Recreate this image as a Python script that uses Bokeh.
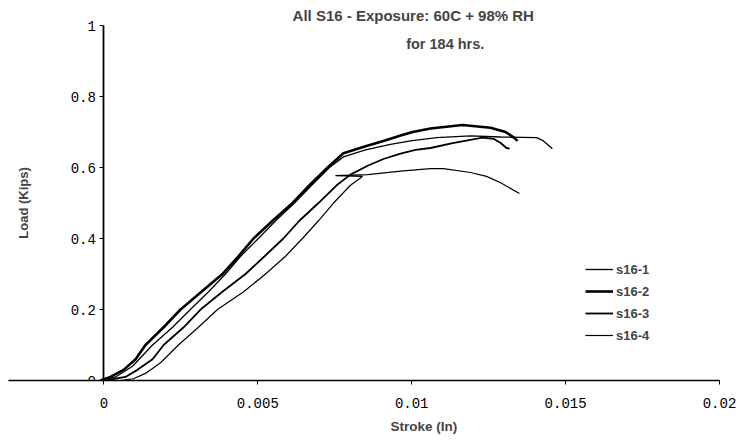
from bokeh.plotting import figure
from bokeh.models import (Range1d, LinearAxis, FixedTicker, Legend, LegendItem,
                          Label, Title, CustomJSTickFormatter)
from bokeh.embed import file_html
from bokeh.resources import INLINE

# ---- data (stroke in inches, load in kips) ----
s16_1_x = [-0.00005, 0.00038, 0.00093, 0.00158, 0.00223, 0.00281, 0.00340, 0.00395,
           0.00444, 0.00502, 0.00558, 0.00619, 0.00675, 0.00733, 0.00778, 0.00850,
           0.00931, 0.00996, 0.01081, 0.01191, 0.01289, 0.01406, 0.01428, 0.01448, 0.01457]
s16_1_y = [0.0, 0.01, 0.04, 0.10, 0.15, 0.20, 0.25, 0.30,
           0.35, 0.40, 0.45, 0.50, 0.55, 0.60, 0.63, 0.65,
           0.665, 0.675, 0.684, 0.689, 0.686, 0.684, 0.675, 0.66, 0.653]

s16_2_x = [-0.00011, 0.00021, 0.00064, 0.00103, 0.00135, 0.00194, 0.00249, 0.00317,
           0.00385, 0.00437, 0.00486, 0.00548, 0.00613, 0.00668, 0.00727, 0.00778,
           0.00850, 0.00908, 0.00964, 0.01003, 0.01061, 0.01165, 0.01256, 0.01305,
           0.01331, 0.01344]
s16_2_y = [0.0, 0.01, 0.03, 0.06, 0.10, 0.15, 0.20, 0.25,
           0.30, 0.35, 0.40, 0.45, 0.50, 0.55, 0.60, 0.64,
           0.66, 0.675, 0.69, 0.70, 0.71, 0.72, 0.712, 0.70,
           0.685, 0.675]

s16_3_x = [0.00005, 0.00070, 0.00109, 0.00158, 0.00194, 0.00259, 0.00314, 0.00385,
           0.00460, 0.00522, 0.00583, 0.00635, 0.00697, 0.00756, 0.00801, 0.00857,
           0.00908, 0.00964, 0.01012, 0.01061, 0.01133, 0.01191, 0.01230, 0.01266,
           0.01289, 0.01308, 0.01318]
s16_3_y = [0.0, 0.01, 0.03, 0.06, 0.10, 0.15, 0.20, 0.25,
           0.30, 0.35, 0.40, 0.45, 0.50, 0.55, 0.58, 0.605,
           0.624, 0.639, 0.65, 0.655, 0.669, 0.678, 0.684, 0.681,
           0.669, 0.655, 0.653]

s16_4_x = [0.00054, 0.00096, 0.00135, 0.00184, 0.00242, 0.00307, 0.00369, 0.00454,
           0.00525, 0.00590, 0.00645, 0.00697, 0.00746, 0.00801, 0.00840, 0.00752,
           0.00857, 0.00964, 0.01061, 0.01103, 0.01191, 0.01243, 0.01289, 0.01350]
s16_4_y = [0.0, 0.005, 0.02, 0.05, 0.10, 0.15, 0.20, 0.25,
           0.30, 0.35, 0.40, 0.45, 0.50, 0.55, 0.575, 0.577,
           0.58, 0.59, 0.597, 0.597, 0.586, 0.575, 0.557, 0.527]

series_names = ["s16-1", "s16-2", "s16-3", "s16-4"]
x_ticks = [0, 0.005, 0.01, 0.015, 0.02]
y_ticks = [0, 0.2, 0.4, 0.6, 0.8, 1]

title_1 = "All S16 - Exposure: 60C + 98% RH"
title_2 = "for 184 hrs."
x_title = "Stroke (In)"
y_title = "Load (Kips)"

SANS = "Liberation Sans"
MONO = "Liberation Mono"

p = figure(width=738, height=443, output_backend="svg", toolbar_location=None,
           x_range=Range1d(-0.0031, 0.02), y_range=Range1d(0, 1.048),
           x_axis_location=None, y_axis_location=None,
           min_border_left=8, min_border_right=19, min_border_top=8,
           min_border_bottom=63)
p.outline_line_color = None
p.xgrid.visible = False
p.ygrid.visible = False
p.background_fill_color = "white"
p.border_fill_color = "white"

fmt = CustomJSTickFormatter(code="return tick.toString();")

xaxis = LinearAxis(ticker=FixedTicker(ticks=x_ticks), formatter=fmt)
xaxis.axis_line_color = "black"
xaxis.axis_line_width = 1.6
xaxis.major_tick_out = 4
xaxis.major_tick_in = 0
xaxis.minor_tick_out = 0
xaxis.minor_tick_in = 0
xaxis.major_label_standoff = 13
xaxis.major_label_text_font = MONO
xaxis.major_label_text_font_size = "14px"
xaxis.major_label_text_color = "black"
p.add_layout(xaxis, "below")

p.add_layout(Title(text=x_title, align="left", offset=382, standoff=13,
                   text_font=SANS, text_font_style="bold", text_font_size="13.5px"),
             "below")

yaxis = LinearAxis(ticker=FixedTicker(ticks=y_ticks), formatter=fmt,
                   fixed_location=0, bounds=(0, 1))
yaxis.axis_line_color = "black"
yaxis.axis_line_width = 1.8
yaxis.major_tick_out = 4
yaxis.major_tick_in = 0
yaxis.minor_tick_out = 0
yaxis.minor_tick_in = 0
yaxis.major_label_standoff = 4
yaxis.major_label_text_font = MONO
yaxis.major_label_text_font_size = "14px"
yaxis.major_label_text_color = "black"
yaxis.axis_label = y_title
yaxis.axis_label_text_font = SANS
yaxis.axis_label_text_font_style = "bold"
yaxis.axis_label_text_font_size = "13px"
yaxis.axis_label_standoff = 36
p.add_layout(yaxis, "left")

widths = [1.3, 2.6, 1.8, 1.2]
xs = [s16_1_x, s16_2_x, s16_3_x, s16_4_x]
ys = [s16_1_y, s16_2_y, s16_3_y, s16_4_y]
items = []
for name, xx, yy, w in zip(series_names, xs, ys, widths):
    r = p.line(xx, yy, line_color="black", line_width=w)
    items.append(LegendItem(label=name, renderers=[r]))

legend = Legend(items=items, location=(577, 35), padding=0, margin=0,
                border_line_color=None, background_fill_alpha=0,
                glyph_width=28, glyph_height=20, label_height=20,
                label_standoff=3, spacing=2,
                label_text_font=SANS, label_text_font_style="bold",
                label_text_font_size="13px")
p.add_layout(legend)

p.add_layout(Label(x=0.01005, y=1.028, text=title_1, text_align="center",
                   text_baseline="middle", text_font=SANS, text_font_style="bold",
                   text_font_size="15px"))
p.add_layout(Label(x=0.01109, y=0.949, text=title_2, text_align="center",
                   text_baseline="middle", text_font=SANS, text_font_style="bold",
                   text_font_size="14.5px"))

open("out.html", "w").write(file_html(p, INLINE))
